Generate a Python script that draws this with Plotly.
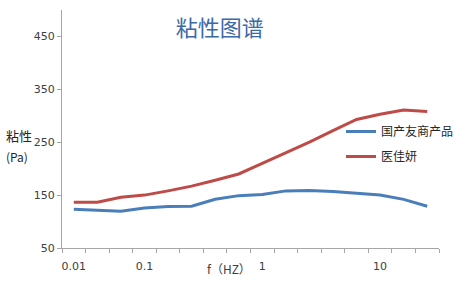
import plotly.graph_objects as go

# Category axis (Excel-style line chart): 16 frequency points, only some labelled
x_labels = ["0.01", "", "", "0.1", "", "", "", "", "1", "", "", "", "", "10", "", ""]
positions = list(range(1, len(x_labels) + 1))

blue_name = "国产友商产品"
blue_vals = [123.5, 121.5, 119.5, 125.5, 128.5, 129, 142, 149, 151, 158, 158.5, 157, 154, 150, 142, 129]
red_name = "医佳妍"
red_vals = [136.5, 136.5, 146, 150, 158, 167, 178, 190, 210, 230, 250, 272, 293, 303, 311, 308]

y_ticks = [50, 150, 250, 350, 450]

FONT = "Noto Sans CJK SC, Microsoft YaHei, sans-serif"

fig = go.Figure()
fig.add_trace(go.Scatter(x=positions, y=blue_vals, mode="lines", name=blue_name,
                         legendgroup="a",
                         line=dict(color="#4a7ebb", width=3)))
fig.add_trace(go.Scatter(x=positions, y=red_vals, mode="lines", name=red_name,
                         legendgroup="b",
                         line=dict(color="#be4b48", width=3)))

lab_vals = [p for p, t in zip(positions, x_labels) if t]
lab_text = [t for t in x_labels if t]
bounds = [p - 0.5 for p in positions] + [positions[-1] + 0.5]

fig.update_layout(
    width=456, height=283,
    margin=dict(l=62, r=17, t=10, b=35, autoexpand=False),
    paper_bgcolor="white", plot_bgcolor="white",
    font=dict(family=FONT, color="#404040"),
    title=dict(text="粘性图谱", x=0.482, xanchor="center", y=0.9, yanchor="middle",
               font=dict(family=FONT, size=22, color="#3b6aa5")),
    showlegend=True,
    legend=dict(x=(341 - 62) / 377, xanchor="left", y=(248 - 117) / 238, yanchor="top",
                bgcolor="rgba(0,0,0,0)", font=dict(size=12, color="#262626", family=FONT),
                traceorder="grouped", tracegroupgap=6),
    xaxis=dict(range=[0.5, len(positions) + 0.5], tickmode="array", tickvals=lab_vals,
               ticktext=lab_text, ticks="", showgrid=False, zeroline=False,
               showline=True, linecolor="#a6a6a6", linewidth=1, ticklabelstandoff=8,
               tickfont=dict(size=11, color="#404040", family="DejaVu Sans"),
               minor=dict(tickmode="array", tickvals=bounds, ticks="outside", ticklen=4,
                          tickcolor="#a6a6a6", showgrid=False)),
    yaxis=dict(range=[50, 500], tickmode="array", tickvals=y_ticks, ticks="outside",
               ticklen=4, tickcolor="#a6a6a6", showgrid=False, zeroline=False,
               showline=True, linecolor="#a6a6a6", linewidth=1,
               tickfont=dict(size=11, color="#404040", family="DejaVu Sans")),
    annotations=[
        dict(text="粘性", xref="paper", yref="paper", x=-58 / 377, xanchor="left",
             y=(248 - 135) / 238, yanchor="middle", showarrow=False,
             font=dict(size=13, color="#262626", family=FONT)),
        dict(text="(Pa)", xref="paper", yref="paper", x=-58 / 377, xanchor="left",
             y=(248 - 156) / 238, yanchor="middle", showarrow=False,
             font=dict(size=12, color="#262626", family=FONT)),
        dict(text="f（HZ）", xref="paper", yref="paper", x=(229 - 62) / 377, xanchor="center",
             y=-20 / 238, yanchor="middle", showarrow=False,
             font=dict(size=12, color="#404040", family=FONT)),
    ],
)

fig.write_html("out.html")
